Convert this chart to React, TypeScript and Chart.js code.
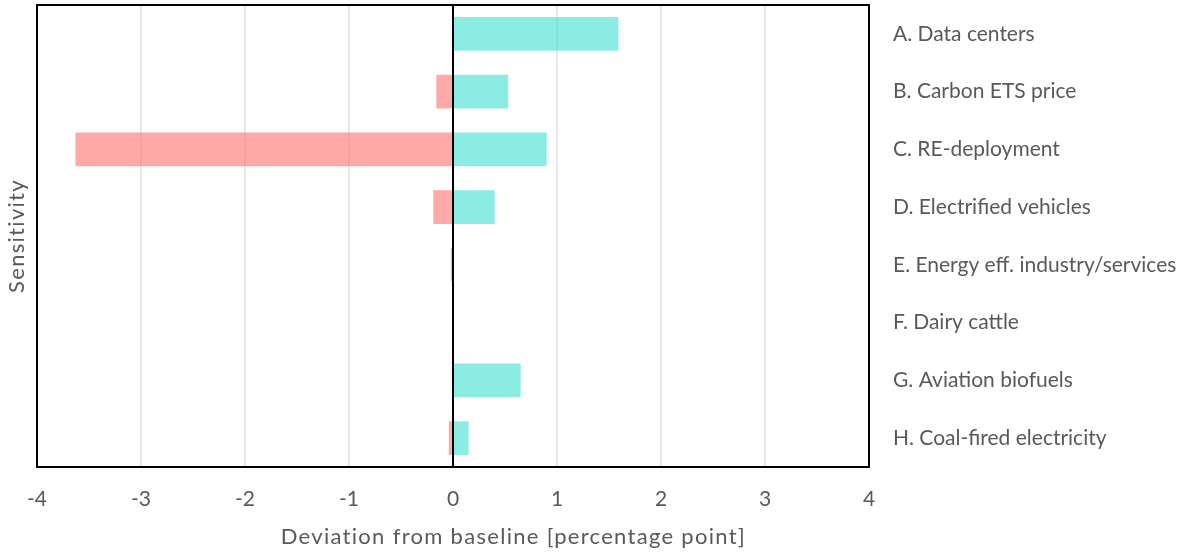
import React, { useEffect, useRef } from 'react';
import { Chart, registerables } from 'chart.js';

Chart.register(...registerables);

const categories = [
  'A. Data centers',
  'B. Carbon ETS price',
  'C. RE-deployment',
  'D. Electrified vehicles',
  'E. Energy eff. industry/services',
  'F. Dairy cattle',
  'G. Aviation biofuels',
  'H. Coal-fired electricity',
];
const negativeValues = [0, -0.17, -3.64, -0.2, -0.03, 0, 0, -0.05];
const positiveValues = [1.6, 0.54, 0.91, 0.41, 0, 0, 0.66, 0.16];
const xMin = -4;
const xMax = 4;
const xTitle = 'Deviation from baseline [percentage point]';
const yTitle = 'Sensitivity';

const FONT = 'Lato, "Open Sans", "Noto Sans", sans-serif';
const TEXT = '#595959';
const FONT_SIZE = 21;
const TITLE_SIZE = 22;

const framePlugin = {
  id: 'frameAndTitles',
  afterDatasetsDraw(chart: any) {
    const { ctx, chartArea: a, scales } = chart;
    const x = scales.x;
    ctx.save();
    ctx.strokeStyle = '#000';
    ctx.lineWidth = 2;
    const x0 = x.getPixelForValue(0);
    ctx.beginPath();
    ctx.moveTo(x0, a.top);
    ctx.lineTo(x0, a.bottom);
    ctx.stroke();
    ctx.strokeRect(a.left, a.top, a.right - a.left, a.bottom - a.top);

    ctx.fillStyle = TEXT;
    ctx.font = `${TITLE_SIZE}px ${FONT}`;
    try {
      (ctx as any).letterSpacing = '1.3px';
    } catch (e) {}
    ctx.textAlign = 'center';
    ctx.textBaseline = 'middle';
    ctx.fillText(xTitle, x.getPixelForValue(0.58), a.bottom + 70);

    ctx.translate(17, (a.top + a.bottom) / 2);
    ctx.rotate(-Math.PI / 2);
    ctx.fillText(yTitle, 0, 0);
    ctx.restore();
  },
};

export default function App() {
  const ref = useRef<HTMLCanvasElement | null>(null);

  useEffect(() => {
    if (!ref.current) return;
    const chart = new Chart(ref.current, {
      type: 'bar',
      data: {
        labels: categories,
        datasets: [
          {
            label: 'Negative',
            data: negativeValues,
            backgroundColor: 'rgba(255, 99, 99, 0.55)',
            borderColor: 'rgba(255, 255, 255, 0.5)',
            borderWidth: 1,
          },
          {
            label: 'Positive',
            data: positiveValues,
            backgroundColor: 'rgba(64, 224, 208, 0.6)',
            borderColor: 'rgba(255, 255, 255, 0.5)',
            borderWidth: 1,
          },
        ],
      },
      options: {
        indexAxis: 'y',
        responsive: false,
        animation: false,
        layout: { padding: { left: 37, top: 5, right: 0, bottom: 0 } },
        datasets: {
          bar: { categoryPercentage: 1, barPercentage: 0.62 },
        },
        plugins: {
          legend: { display: false },
          tooltip: { enabled: false },
        },
        scales: {
          x: {
            type: 'linear',
            min: xMin,
            max: xMax,
            stacked: true,
            position: 'bottom',
            ticks: {
              stepSize: 1,
              color: TEXT,
              padding: 20,
              font: { family: FONT, size: FONT_SIZE },
            },
            grid: {
              color: (c: any) => (c.tick && c.tick.value === 0 ? 'rgba(0,0,0,0)' : '#e8e8e8'),
              lineWidth: 2,
              drawTicks: false,
            },
            border: { display: false },
            afterFit: (s: any) => {
              s.height = 89;
              s.paddingLeft = 0;
              s.paddingRight = 0;
            },
          },
          y: {
            type: 'category',
            position: 'right',
            stacked: true,
            grid: { display: false, drawTicks: false },
            border: { display: false },
            ticks: {
              color: TEXT,
              padding: 24,
              crossAlign: 'near',
              autoSkip: false,
              font: { family: FONT, size: FONT_SIZE },
            },
            afterFit: (s: any) => {
              s.width = 329;
              s.paddingTop = 0;
              s.paddingBottom = 0;
            },
          },
        },
      },
      plugins: [framePlugin],
    } as any);
    return () => chart.destroy();
  }, []);

  return (
    <div style={{ position: 'absolute', left: 0, top: 0, width: 1198, height: 556, background: '#fff' }}>
      <canvas ref={ref} width={1198} height={556} style={{ display: 'block' }} />
    </div>
  );
}
